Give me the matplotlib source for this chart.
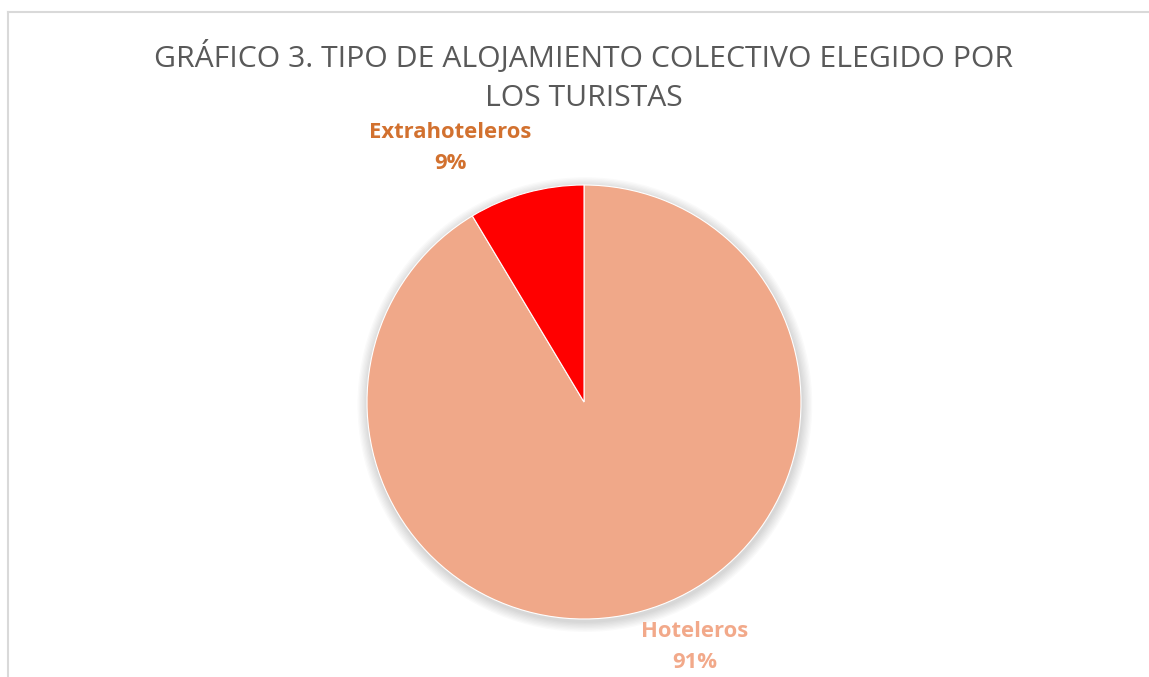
import numpy as np
import matplotlib.pyplot as plt
from matplotlib.lines import Line2D

categorias = ["Hoteleros", "Extrahoteleros"]
porcentajes = [91.4, 8.6]
colores = ["#F0A889", "#FF0000"]
colores_texto = ["#F2A98A", "#D2712F"]

W, H = 1149, 677
fig = plt.figure(figsize=(W / 100, H / 100), dpi=100)
fig.patch.set_facecolor("white")

# marco del grafico (solo arriba e izquierda visibles)
fig.add_artist(Line2D([8 / W, 8 / W], [0, 1 - 12 / H], transform=fig.transFigure,
                      color="#D9D9D9", lw=1.5))
fig.add_artist(Line2D([8 / W, 1], [1 - 12 / H, 1 - 12 / H], transform=fig.transFigure,
                      color="#D9D9D9", lw=1.5))

cx, cy, r = 584, 402, 217
ax = fig.add_axes([(cx - r) / W, (H - cy - r) / H, 2 * r / W, 2 * r / H])

# sombra suave
for k in range(8):
    circ = plt.Circle((0.004, -0.012), 1 + 0.006 * (k + 1), color="#000000",
                      alpha=0.018, lw=0, zorder=0, clip_on=False)
    ax.add_patch(circ)

wedges, _ = ax.pie(porcentajes, colors=colores, startangle=90, counterclock=False,
                   radius=1, wedgeprops=dict(linewidth=0.8, edgecolor="white"))
for w in wedges:
    w.set_zorder(2)
ax.set_xlim(-1, 1)
ax.set_ylim(-1, 1)
ax.axis("off")

fuente = ["Open Sans", "DejaVu Sans"]
pos_etiquetas = [((695 - cx) / r, (cy - 647) / r), ((450 - cx) / r, (cy - 148) / r)]
for cat, p, col, (x, y) in zip(categorias, porcentajes, colores_texto, pos_etiquetas):
    ax.text(x, y, f"{cat}\n{round(p):.0f}%", ha="center", va="center", color=col,
            fontsize=15.8, fontweight="bold", family=fuente, linespacing=1.6,
            clip_on=False)

fig.text(584 / W, 1 - 77 / H, "GRÁFICO 3. TIPO DE ALOJAMIENTO COLECTIVO ELEGIDO POR\nLOS TURISTAS",
         ha="center", va="center", color="#595959", fontsize=21.7, family=fuente,
         linespacing=1.45)

fig.savefig("out.png", dpi=100)
